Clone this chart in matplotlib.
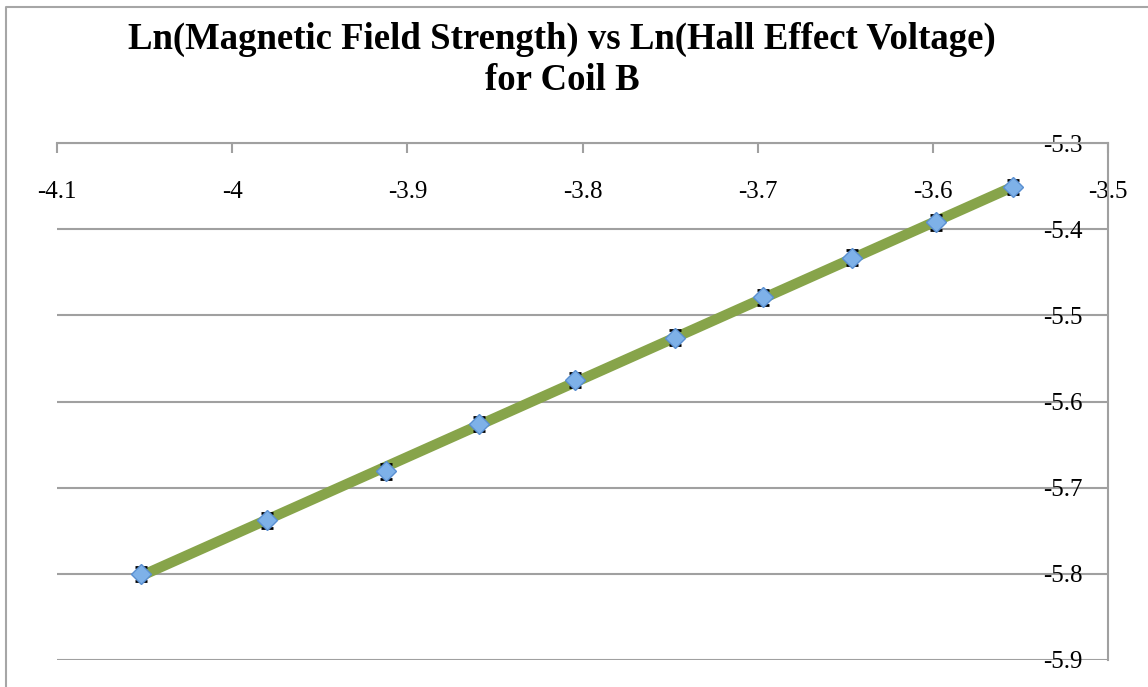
import matplotlib
matplotlib.use("Agg")
import matplotlib.pyplot as plt
from matplotlib.lines import Line2D
import numpy as np

# ln(B) vs ln(V_H), coil B
ln_b = [-4.052, -3.980, -3.912, -3.859, -3.804, -3.747, -3.697, -3.646, -3.598, -3.554]
ln_v = [-5.800, -5.738, -5.681, -5.626, -5.575, -5.526, -5.479, -5.433, -5.392, -5.351]
err = [0.0085] * len(ln_v)

xticks = [-4.1, -4.0, -3.9, -3.8, -3.7, -3.6, -3.5]
yticks = [-5.3, -5.4, -5.5, -5.6, -5.7, -5.8, -5.9]
xlabels = ["-4.1", "-4", "-3.9", "-3.8", "-3.7", "-3.6", "-3.5"]
ylabels = ["-5.3", "-5.4", "-5.5", "-5.6", "-5.7", "-5.8", "-5.9"]

title = "Ln(Magnetic Field Strength) vs Ln(Hall Effect Voltage)\nfor Coil B"

W, H = 1148, 687
fig = plt.figure(figsize=(W / 100, H / 100), dpi=100)
ax = fig.add_axes([57 / W, 1 - 660 / H, (1108 - 57) / W, (660 - 143) / H])

# chart frame, only left and top edges show
frame = "#a6a6a6"
fig.lines.append(Line2D([6 / W, 6 / W, 1.0], [0.0, 1 - 7 / H, 1 - 7 / H],
                        transform=fig.transFigure, color=frame, lw=1.5))

grid = "#a0a0a0"
for y in yticks:
    ax.axhline(y, color=grid, lw=1.5, zorder=1)

# linear trendline
k, b = np.polyfit(ln_b, ln_v, 1)
xs = np.array([min(ln_b), max(ln_b)])
ax.plot(xs, k * xs + b, color="#87a44a", lw=7.5, solid_capstyle="butt", zorder=2)

ax.errorbar(ln_b, ln_v, yerr=err, fmt="none", ecolor="black", elinewidth=1.2,
            capsize=4.5, capthick=2, zorder=3)
ax.plot(ln_b, ln_v, ls="none", marker="D", ms=10, mfc="#7eb1e8", mec="#5a8fd0",
        mew=1, zorder=4)

ax.set_xlim(-4.1, -3.5)
ax.set_ylim(-5.9, -5.3)
for side in ["left", "bottom"]:
    ax.spines[side].set_visible(False)
for side in ["top", "right"]:
    ax.spines[side].set_color(grid)
    ax.spines[side].set_linewidth(1.5)

ax.set_xticks(xticks)
ax.set_xticklabels(xlabels, family="Liberation Serif", fontsize=18)
ax.set_yticks(yticks)
ax.set_yticklabels(ylabels, family="Liberation Serif", fontsize=18)
ax.tick_params(axis="x", top=True, labeltop=True, bottom=False, labelbottom=False,
               direction="in", length=7, width=1.5, color=grid, pad=-43)
ax.tick_params(axis="y", right=True, labelright=True, left=False, labelleft=False,
               length=0, pad=-18)
for lab in ax.get_yticklabels():
    lab.set_ha("right")

fig.text(562 / W, 1 - 22 / H, title, ha="center", va="top", family="Liberation Serif",
         fontweight="bold", fontsize=26.5, linespacing=1.2)

fig.savefig("out.png", dpi=100)
